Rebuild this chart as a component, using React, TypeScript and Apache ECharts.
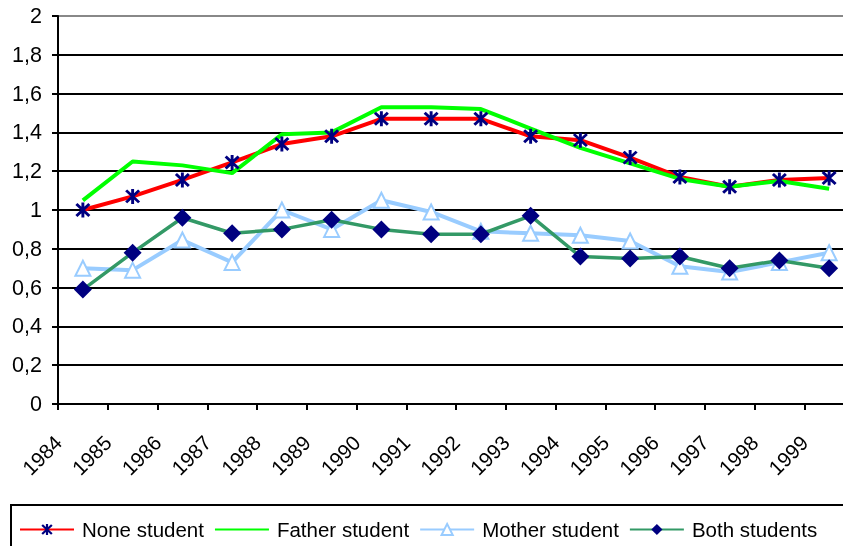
import React, { useEffect, useRef } from 'react';
import * as echarts from 'echarts';

const years = ['1984', '1985', '1986', '1987', '1988', '1989', '1990', '1991', '1992', '1993', '1994', '1995', '1996', '1997', '1998', '1999'];
const noneStudent = [1.0, 1.07, 1.155, 1.245, 1.34, 1.38, 1.47, 1.47, 1.47, 1.38, 1.36, 1.27, 1.17, 1.12, 1.155, 1.165];
const fatherStudent = [1.05, 1.25, 1.23, 1.19, 1.39, 1.4, 1.53, 1.53, 1.52, 1.42, 1.32, 1.24, 1.16, 1.12, 1.15, 1.11];
const motherStudent = [0.7, 0.69, 0.845, 0.73, 1.0, 0.9, 1.05, 0.99, 0.89, 0.88, 0.87, 0.84, 0.71, 0.68, 0.73, 0.78];
const bothStudents = [0.59, 0.78, 0.96, 0.88, 0.9, 0.95, 0.9, 0.875, 0.875, 0.97, 0.76, 0.75, 0.76, 0.7, 0.74, 0.7];
const seriesNames = ['None student', 'Father student', 'Mother student', 'Both students'];

const STAR =
  'path://M8.2 0 L11.8 0 L11.8 20 L8.2 20 Z M0.73 3.27 L3.27 0.73 L19.27 16.73 L16.73 19.27 Z M0.73 16.73 L16.73 0.73 L19.27 3.27 L3.27 19.27 Z';

export default function App() {
  const ref = useRef<HTMLDivElement>(null);
  useEffect(() => {
    const chart = echarts.init(ref.current!, null, { renderer: 'svg' });
    const font = "'Liberation Sans', Arial, sans-serif";
    const toPts = (arr: number[]) => arr.map((v, i) => [i + 0.5, v]);
    const gridColors = ['#000', '#000', '#000', '#000', '#000', '#000', '#000', '#000', '#000', '#000', '#888'];
    chart.setOption({
      animation: false,
      textStyle: { fontFamily: font },
      grid: { left: 58, top: 16, width: 796, height: 388, containLabel: false, outerBoundsMode: 'none' },
      xAxis: {
        type: 'value',
        min: 0,
        max: 16,
        interval: 1,
        axisLine: { show: true, lineStyle: { color: '#000', width: 2 } },
        axisTick: { show: true, length: 6, lineStyle: { color: '#000', width: 2 } },
        splitLine: { show: false },
        axisLabel: {
          rotate: 45,
          margin: 35,
          fontSize: 20.5,
          color: '#000',
          fontFamily: font,
          padding: [14, 0, 0, 0],
          showMaxLabel: false,
          formatter: (v: number) => years[Math.round(v)] ?? '',
        },
      },
      yAxis: {
        type: 'value',
        min: 0,
        max: 2,
        interval: 0.2,
        axisLine: { show: true, lineStyle: { color: '#000', width: 2 } },
        axisTick: { show: true, length: 6, lineStyle: { color: '#000', width: 2 } },
        splitLine: { show: true, lineStyle: { color: gridColors, width: 2 } },
        axisLabel: {
          margin: 16,
          fontSize: 21.5,
          color: '#000',
          fontFamily: font,
          formatter: (v: number) => String(Math.round(v * 10) / 10).replace('.', ','),
        },
      },
      legend: {
        left: 19,
        top: 519,
        itemWidth: 54,
        itemHeight: 14,
        itemGap: 10,
        padding: 0,
        selectedMode: false,
        textStyle: { fontFamily: font, fontSize: 20.5, color: '#000', padding: [0, 0, 0, 3] },
        data: [
          { name: seriesNames[0] },
          { name: seriesNames[1], itemStyle: { opacity: 0 } },
          { name: seriesNames[2] },
          { name: seriesNames[3] },
        ],
      },
      graphic: [
        {
          type: 'rect',
          shape: { x: 11, y: 505, width: 850, height: 60 },
          style: { fill: 'none', stroke: '#000', lineWidth: 2 },
          z: -1,
        },
      ],
      series: [
        {
          name: seriesNames[0],
          type: 'line',
          data: toPts(noneStudent),
          symbol: STAR,
          symbolSize: 15,
          lineStyle: { color: '#ff0000', width: 4 },
          itemStyle: { color: '#000080' },
        },
        {
          name: seriesNames[1],
          type: 'line',
          data: toPts(fatherStudent),
          symbol: 'none',
          lineStyle: { color: '#00ff00', width: 4 },
          itemStyle: { color: '#00ff00' },
        },
        {
          name: seriesNames[2],
          type: 'line',
          data: toPts(motherStudent),
          symbol: 'triangle',
          symbolSize: 15,
          lineStyle: { color: '#99ccff', width: 4 },
          itemStyle: { color: '#ffffff', borderColor: '#99ccff', borderWidth: 2 },
        },
        {
          name: seriesNames[3],
          type: 'line',
          data: toPts(bothStudents),
          symbol: 'diamond',
          symbolSize: 18,
          lineStyle: { color: '#339966', width: 3.5 },
          itemStyle: { color: '#000080' },
        },
      ],
    });
    return () => chart.dispose();
  }, []);
  return <div ref={ref} style={{ position: 'fixed', left: 0, top: 0, width: 843, height: 546 }} />;
}
